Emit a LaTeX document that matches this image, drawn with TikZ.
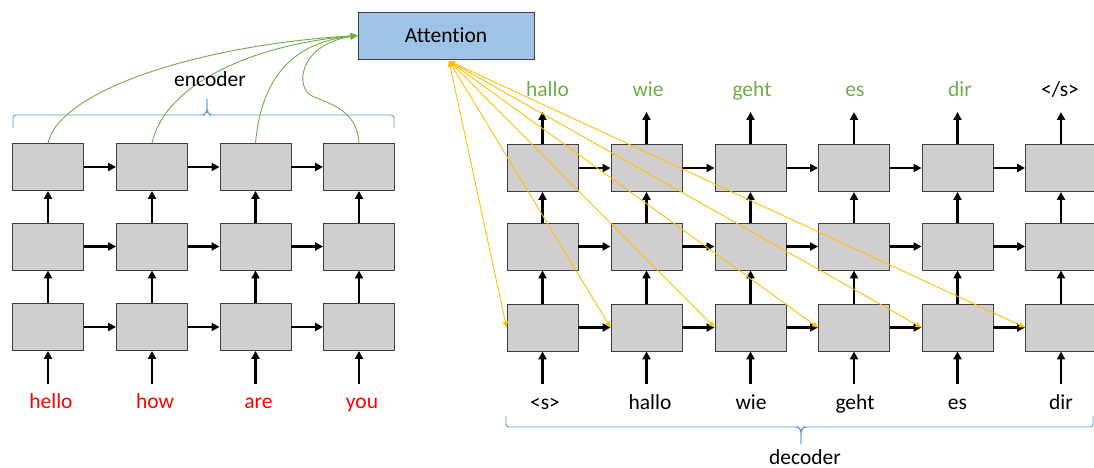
\documentclass[tikz,border=0pt]{standalone}
\usepackage{fontspec}
\setmainfont{Carlito}[Ligatures={NoCommon,NoRare,NoContextual}]
\usetikzlibrary{arrows.meta}

\definecolor{cellfill}{HTML}{D0CECE}
\definecolor{cellline}{HTML}{404040}
\definecolor{attfill}{HTML}{9DC3E6}
\definecolor{attgreen}{HTML}{70AD47}
\definecolor{attyellow}{HTML}{FFC000}
\definecolor{bracecol}{HTML}{5B9BD5}
\definecolor{inred}{HTML}{FF0000}

\begin{document}
\begin{tikzpicture}[x=1pt, y=-1pt,
  font=\fontsize{21.5}{24}\selectfont,
  cell/.style={draw=cellline, fill=cellfill, line width=0.9pt,
    minimum width=71pt, minimum height=47pt, inner sep=0pt},
  attbox/.style={draw=cellline, fill=attfill, line width=0.9pt,
    minimum width=176pt, minimum height=47pt, inner sep=0pt},
  flow/.style={line width=2.6pt, -{Triangle[length=8pt,width=8pt]}},
  grn/.style={attgreen, line width=0.9pt, -{Triangle[length=7pt,width=6pt]}},
  yel/.style={attyellow, line width=0.9pt,
    {Triangle[length=6pt,width=5pt]}-{Triangle[length=6pt,width=5pt]}},
  brace/.style={bracecol, line width=0.9pt, rounded corners=3pt},
  lbl/.style={anchor=base, inner sep=0pt}]

\path[use as bounding box] (0,0) rectangle (1094,468);
\clip (0,0) rectangle (1094,468);

% ---------------- encoder ----------------
\foreach \c/\x in {1/48,2/152,3/255.5,4/359}{
  \foreach \r/\y in {1/167,2/246.5,3/327}{
    \node[cell] (e\r\c) at (\x,\y) {};
  }
  \coordinate (ei\c) at (\x,384);
  \draw[flow] (ei\c) -- (e3\c.south);
  \draw[flow] (e3\c.north) -- (e2\c.south);
  \draw[flow] (e2\c.north) -- (e1\c.south);
}
\foreach \r in {1,2,3}{
  \foreach \c/\n in {1/2,2/3,3/4}{
    \draw[flow] (e\r\c.east) -- (e\r\n.west);
  }
}
\foreach \c/\x/\w in {1/51/hello,2/155/how,3/258.5/are,4/362/you}{
  \node[lbl, text=inred] (ew\c) at (\x,408) {\w};
}

% ---------------- decoder ----------------
\foreach \c/\x in {1/542.5,2/646.5,3/750.5,4/854,5/957.5,6/1061}{
  \foreach \r/\y in {1/168,2/246.5,3/327.5}{
    \node[cell] (d\r\c) at (\x,\y) {};
  }
  \coordinate (di\c) at (\x,384);
  \coordinate (do\c) at (\x,112);
  \draw[flow] (di\c) -- (d3\c.south);
  \draw[flow] (d3\c.north) -- (d2\c.south);
  \draw[flow] (d2\c.north) -- (d1\c.south);
  \draw[flow] (d1\c.north) -- (do\c);
}
\foreach \r in {1,2,3}{
  \foreach \c/\n in {1/2,2/3,3/4,4/5,5/6}{
    \draw[flow] (d\r\c.east) -- (d\r\n.west);
  }
}
\foreach \c/\x/\w in {1/545/<s>,2/650/hallo,3/751/wie,4/855/geht,5/957.5/es,6/1061/dir}{
  \node[lbl] (dw\c) at (\x,409) {\w};
}
\foreach \c/\x/\w in {1/547.5/hallo,2/648/wie,3/752/geht,4/855/es,5/960/dir}{
  \node[lbl, text=attgreen] (dy\c) at (\x,97) {\w};
}
\node[lbl] (dy6) at (1060,97) {</s>};

% ---------------- attention ----------------
\node[attbox] (att) at (446,35.5) {Attention};
\coordinate (attsrc) at (449,61);

% encoder states feeding the attention
\draw[grn] (e11.north) .. controls (60,90) and (200,45) .. (att.west);
\draw[grn] (e12.north) .. controls (165,85) and (250,45) .. (att.west);
\draw[grn] (e13.north) .. controls (262,70) and (300,42) .. (att.west);
\draw[grn] (e14.north) .. controls (357,110) and (330,104) .. (312,96)
                        .. controls (295,88) and (298,45) .. (att.west);

% attention context into every decoder step
\foreach \c in {1,...,6}{
  \draw[yel] (attsrc) -- (d3\c.west);
}

% ---------------- braces ----------------
\draw[brace] (13,128) -- (13,115) -- (204,115) -- (207,112) -- (207,99);
\draw[brace] (394,128) -- (394,115) -- (210,115) -- (207,112) -- (207,99);
\node[lbl] (enc) at (210,87) {encoder};

\draw[brace] (506,416) -- (506,427) -- (798,427) -- (801,430) -- (801,444);
\draw[brace] (1093,416) -- (1093,427) -- (804,427) -- (801,430) -- (801,444);
\node[lbl] (dec) at (805,464) {decoder};

\end{tikzpicture}
\end{document}
